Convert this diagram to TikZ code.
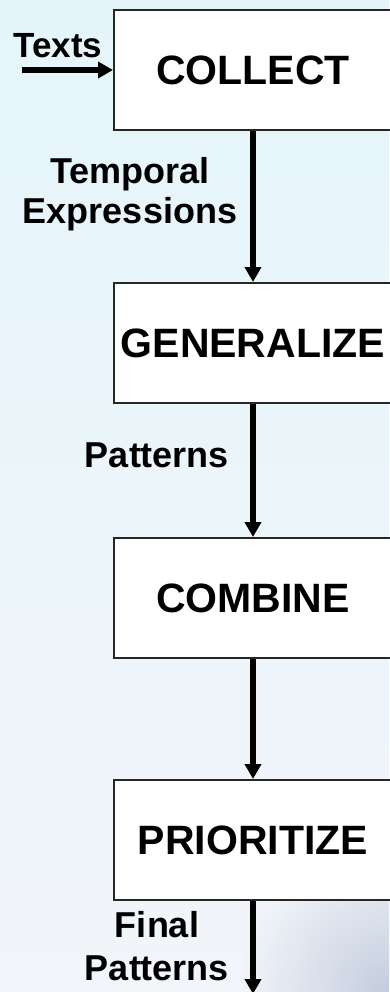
\documentclass[tikz,border=0pt]{standalone}
\usepackage{fontspec}
\setmainfont{Liberation Sans}
\usetikzlibrary{arrows.meta,fadings}

\definecolor{bgtop}{RGB}{228,245,250}
\definecolor{bgmid}{RGB}{251,253,254}
\definecolor{bgbot}{RGB}{242,245,250}
\definecolor{bgcorner}{RGB}{196,205,222}

\tikzfading[name=cornerfade, inner color=transparent!0, outer color=transparent!100]

\begin{document}
\begin{tikzpicture}[x=1pt,y=-1pt,
  stagebox/.style={draw=black!85, line width=1.8pt, fill=white,
    minimum width=278pt, minimum height=120pt, inner sep=0pt,
    anchor=north west, font=\fontsize{41}{49}\selectfont\bfseries},
  flow/.style={line width=5.2pt, -{Triangle[width=16pt,length=15pt]}},
  lbl/.style={inner sep=0pt, align=center, anchor=north,
    font=\fontsize{36}{40}\selectfont\bfseries}]

  % page frame and soft background
  \useasboundingbox (0,0) rectangle (389,992);
  \shade[top color=bgtop, middle color=bgmid, bottom color=bgbot]
    (0,0) rectangle (389,992);
  \begin{scope}
    \clip (0,0) rectangle (389,992);
    \fill[bgcorner, path fading=cornerfade] (389,992) circle (150pt);
  \end{scope}

  % processing stages
  \node[stagebox] (collect) at (113,9)   {COLLECT};
  \node[stagebox] (general) at (113,282) {GENERALIZE};
  \node[stagebox] (combine) at (113,537) {COMBINE};
  \node[stagebox] (prior)   at (113,779) {PRIORITIZE};

  % vertical flow axis and free ends
  \coordinate (axis) at (253,0);
  \coordinate (in)   at (22,70);
  \coordinate (out)  at (253,994);

  % connectors
  \draw[flow] (in) -- (collect.west |- in);
  \draw[flow] (collect.south -| axis) -- (general.north -| axis);
  \draw[flow] (general.south -| axis) -- (combine.north -| axis);
  \draw[flow] (combine.south -| axis) -- (prior.north -| axis);
  \draw[flow] (prior.south -| axis) -- (out);

  % connector labels
  \node[inner sep=0pt, anchor=base, font=\fontsize{35}{40}\selectfont\bfseries]
    (texts) at (58,58) {Texts};
  \node[lbl] (temporal) at (130,157) {Temporal\\Expressions};
  \node[lbl] (patterns) at (157,443) {Patterns};
  \node[lbl, font=\fontsize{36}{43}\selectfont\bfseries]
    (final) at (157,911) {Final\\Patterns};
\end{tikzpicture}
\end{document}
